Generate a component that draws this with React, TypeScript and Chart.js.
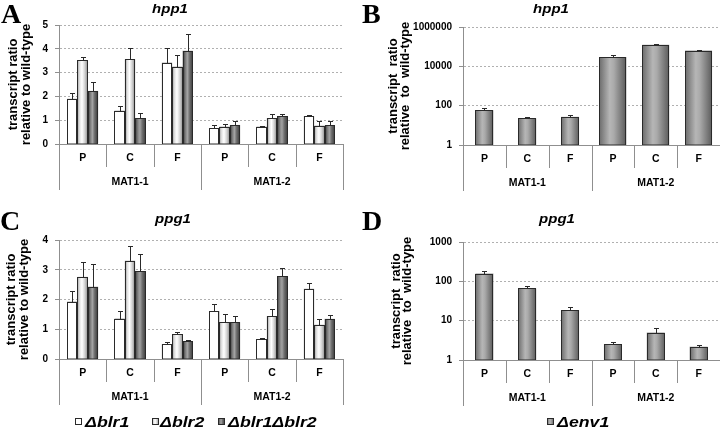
import React, { useEffect, useRef } from 'react';
import { Chart, registerables } from 'chart.js';

Chart.register(...registerables);

// ---------- data ----------
const categories = ['P', 'C', 'F', 'P', 'C', 'F'];
const groups = ['MAT1-1', 'MAT1-2'];
const seriesLabels = ['Δblr1', 'Δblr2', 'Δblr1Δblr2'];
const env1Label = 'Δenv1';

// Panel A: hpp1 (linear)
const hpp1Blr1 = [1.9, 1.4, 3.42, 0.66, 0.73, 1.17];
const hpp1Blr1Err = [0.24, 0.18, 0.63, 0.12, 0.02, 0.04];
const hpp1Blr2 = [3.51, 3.56, 3.25, 0.73, 1.09, 0.77];
const hpp1Blr2Err = [0.14, 0.49, 0.49, 0.12, 0.17, 0.21];
const hpp1Dbl = [2.23, 1.09, 3.92, 0.8, 1.17, 0.78];
const hpp1DblErr = [0.37, 0.21, 0.69, 0.18, 0.09, 0.2];

// Panel C: ppg1 (linear)
const ppg1Blr1 = [1.93, 1.36, 0.5, 1.61, 0.67, 2.36];
const ppg1Blr1Err = [0.34, 0.27, 0.06, 0.23, 0.03, 0.19];
const ppg1Blr2 = [2.76, 3.3, 0.84, 1.24, 1.44, 1.15];
const ppg1Blr2Err = [0.51, 0.51, 0.06, 0.27, 0.24, 0.19];
const ppg1Dbl = [2.43, 2.96, 0.59, 1.24, 2.79, 1.35];
const ppg1DblErr = [0.75, 0.58, 0.05, 0.19, 0.26, 0.12];

// Panel B: hpp1 in Δenv1 (log)
const hpp1Env1 = [59, 22.5, 27, 30000, 127000, 63000];
const hpp1Env1Err = [19, 4.5, 5, 6000, 13000, 7000];

// Panel D: ppg1 in Δenv1 (log)
const ppg1Env1 = [158, 66, 18.5, 2.5, 5.0, 2.18];
const ppg1Env1Err = [26, 12, 3.5, 0.3, 1.4, 0.27];

// tick values
const yTicksA = [0, 1, 2, 3, 4, 5];
const yTicksB = [1, 100, 10000, 1000000];
const yTicksC = [0, 1, 2, 3, 4];
const yTicksD = [1, 10, 100, 1000];

// ---------- styles ----------
const SANS = '"Liberation Sans", Arial, Helvetica, sans-serif';
const SERIF = '"Liberation Serif", "Times New Roman", serif';
const AXIS = '#8f8f8f';
const GRID = '#b0b0b0';
const INK = '#000000';
const EDGE = '#2a2a2a';

const SHADES: Record<string, [number, string][]> = {
  white: [[0, '#ffffff'], [1, '#ffffff']],
  light: [[0, '#9a9a9a'], [0.25, '#e4e4e4'], [0.45, '#ffffff'], [0.7, '#d4d4d4'], [1, '#8a8a8a']],
  dark: [[0, '#3c3c3c'], [0.3, '#8a8a8a'], [0.45, '#a2a2a2'], [0.65, '#707070'], [1, '#363636']],
  mid: [[0, '#6a6a6a'], [0.4, '#b6b6b6'], [0.55, '#aaaaaa'], [1, '#5c5c5c']],
};

type Series = {
  label: string;
  data: (number | null)[];
  err: (number | null)[];
  shade: string;
  barPercentage: number;
};

type LegendItem = { label: string; shade: string; boxX: number; textX: number };

type Panel = {
  W: number; H: number; left: number; top: number;
  area: { l: number; r: number; t: number; b: number };
  letter: string; letterX: number; letterY: number;
  title: string; titleX: number; titleY: number;
  yTitle: [string, string]; yTitleX: [number, number];
  log: boolean; yMin: number; yMax: number; yTicks: number[];
  series: Series[]; categoryPercentage: number; grouped: boolean;
  legend?: LegendItem[]; legendY?: number;
};

const firstGroup = (arr: number[]) => arr.map((v, i) => (i < 3 ? v : null));
const secondGroup = (arr: number[]) => arr.map((v, i) => (i >= 3 ? v : null));

const panels: Panel[] = [
  {
    W: 360, H: 200, left: 0, top: 0,
    area: { l: 59, r: 343, t: 25, b: 144 },
    letter: 'A', letterX: 1, letterY: 23,
    title: 'hpp1', titleX: 170, titleY: 13,
    yTitle: ['transcript ratio', 'relative to wild-type'], yTitleX: [13, 26],
    log: false, yMin: 0, yMax: 5, yTicks: yTicksA,
    series: [
      { label: seriesLabels[0], data: hpp1Blr1, err: hpp1Blr1Err, shade: 'white', barPercentage: 1 },
      { label: seriesLabels[1], data: hpp1Blr2, err: hpp1Blr2Err, shade: 'light', barPercentage: 1 },
      { label: seriesLabels[2], data: hpp1Dbl, err: hpp1DblErr, shade: 'dark', barPercentage: 1 },
    ],
    categoryPercentage: 0.655, grouped: true,
  },
  {
    W: 360, H: 200, left: 360, top: 0,
    area: { l: 103, r: 360, t: 27, b: 145 },
    letter: 'B', letterX: 2, letterY: 23,
    title: 'hpp1', titleX: 191, titleY: 13,
    yTitle: ['transcript  ratio', 'relative  to  wild-type'], yTitleX: [33, 45],
    log: true, yMin: 1, yMax: 1000000, yTicks: yTicksB,
    series: [
      { label: env1Label, data: firstGroup(hpp1Env1), err: firstGroup(hpp1Env1Err), shade: 'mid', barPercentage: 0.42 },
      { label: env1Label, data: secondGroup(hpp1Env1), err: secondGroup(hpp1Env1Err), shade: 'mid', barPercentage: 0.63 },
    ],
    categoryPercentage: 1, grouped: false,
  },
  {
    W: 360, H: 230, left: 0, top: 200,
    area: { l: 59, r: 343, t: 40, b: 159 },
    letter: 'C', letterX: 0, letterY: 30,
    title: 'ppg1', titleX: 173, titleY: 23,
    yTitle: ['transcript ratio', 'relative to wild-type'], yTitleX: [11, 24],
    log: false, yMin: 0, yMax: 4, yTicks: yTicksC,
    series: [
      { label: seriesLabels[0], data: ppg1Blr1, err: ppg1Blr1Err, shade: 'white', barPercentage: 1 },
      { label: seriesLabels[1], data: ppg1Blr2, err: ppg1Blr2Err, shade: 'light', barPercentage: 1 },
      { label: seriesLabels[2], data: ppg1Dbl, err: ppg1DblErr, shade: 'dark', barPercentage: 1 },
    ],
    categoryPercentage: 0.655, grouped: true,
    legend: [
      { label: seriesLabels[0], shade: 'white', boxX: 75, textX: 85 },
      { label: seriesLabels[1], shade: 'light', boxX: 152, textX: 160 },
      { label: seriesLabels[2], shade: 'dark', boxX: 218, textX: 228 },
    ],
    legendY: 221,
  },
  {
    W: 360, H: 230, left: 360, top: 200,
    area: { l: 103, r: 360, t: 42, b: 160 },
    letter: 'D', letterX: 2, letterY: 30,
    title: 'ppg1', titleX: 197, titleY: 23,
    yTitle: ['transcript  ratio', 'relative  to  wild-type'], yTitleX: [36, 47],
    log: true, yMin: 1, yMax: 1000, yTicks: yTicksD,
    series: [
      { label: env1Label, data: ppg1Env1, err: ppg1Env1Err, shade: 'mid', barPercentage: 0.42 },
    ],
    categoryPercentage: 1, grouped: false,
    legend: [{ label: env1Label, shade: 'mid', boxX: 187, textX: 197 }],
    legendY: 221,
  },
];

// ---------- drawing helpers ----------
function gradient(ctx: CanvasRenderingContext2D, x0: number, x1: number, shade: string) {
  const g = ctx.createLinearGradient(x0, 0, x1, 0);
  SHADES[shade].forEach(([o, c]) => g.addColorStop(o, c));
  return g;
}

function stretchText(ctx: CanvasRenderingContext2D, text: string, x: number, y: number, sx: number, align: CanvasTextAlign) {
  ctx.save();
  ctx.translate(x, y);
  ctx.scale(sx, 1);
  ctx.textAlign = align;
  ctx.fillText(text, 0, 0);
  ctx.restore();
}

function panelPlugin(p: Panel) {
  return {
    id: 'panelDecor',
    afterDatasetsDraw(chart: any) {
      const ctx: CanvasRenderingContext2D = chart.ctx;
      const ys = chart.scales.y;
      chart.data.datasets.forEach((_ds: any, di: number) => {
        const s = p.series[di];
        const meta = chart.getDatasetMeta(di);
        meta.data.forEach((el: any, i: number) => {
          const v = s.data[i];
          if (v == null) return;
          const { x, y, base, width } = el.getProps(['x', 'y', 'base', 'width'], true);
          const x0 = Math.round(x - width / 2);
          const x1 = Math.round(x + width / 2);
          const top = Math.round(y);
          const bot = Math.round(base);
          ctx.save();
          ctx.fillStyle = gradient(ctx, x0, x1, s.shade);
          ctx.fillRect(x0, top, x1 - x0, bot - top);
          ctx.strokeStyle = EDGE;
          ctx.lineWidth = 1;
          ctx.strokeRect(x0 + 0.5, top + 0.5, x1 - x0 - 1, bot - top - 0.5);
          const e = s.err[i];
          if (e) {
            const yt = Math.round(ys.getPixelForValue(v + e));
            const cx = Math.round(x) + 0.5;
            ctx.beginPath();
            ctx.moveTo(cx, top);
            ctx.lineTo(cx, yt + 0.5);
            ctx.moveTo(cx - 2.5, yt + 0.5);
            ctx.lineTo(cx + 2.5, yt + 0.5);
            ctx.stroke();
          }
          ctx.restore();
        });
      });
    },
    afterDraw(chart: any) {
      const ctx: CanvasRenderingContext2D = chart.ctx;
      const a = chart.chartArea;
      const xs = chart.scales.x;
      const n = categories.length;
      const step = xs.getPixelForValue(1) - xs.getPixelForValue(0);
      ctx.save();
      // category axis line + dividers
      ctx.strokeStyle = AXIS;
      ctx.lineWidth = 1;
      ctx.beginPath();
      ctx.moveTo(a.left, a.bottom + 0.5);
      ctx.lineTo(a.right, a.bottom + 0.5);
      for (let i = 0; i <= n; i++) {
        const bx = Math.round(xs.getPixelForValue(i) - step / 2) + 0.5;
        const len = i % 3 === 0 ? 46 : 23;
        if (bx > chart.width) continue;
        ctx.moveTo(bx, a.bottom);
        ctx.lineTo(bx, a.bottom + len);
      }
      ctx.stroke();

      // category labels
      ctx.fillStyle = INK;
      ctx.textBaseline = 'middle';
      ctx.font = `bold 10px ${SANS}`;
      categories.forEach((c, i) => stretchText(ctx, c, xs.getPixelForValue(i), a.bottom + 14, 1.05, 'center'));
      groups.forEach((g, gi) => stretchText(ctx, g, xs.getPixelForValue(gi * 3 + 1), a.bottom + 38, 1.05, 'center'));

      // y title
      ctx.font = `bold 13px ${SANS}`;
      const cy = (a.top + a.bottom) / 2;
      p.yTitle.forEach((t, li) => {
        ctx.save();
        ctx.translate(p.yTitleX[li], cy);
        ctx.rotate(-Math.PI / 2);
        ctx.textAlign = 'center';
        ctx.textBaseline = 'middle';
        ctx.fillText(t, 0, 0);
        ctx.restore();
      });

      // title
      ctx.textBaseline = 'alphabetic';
      ctx.font = `italic bold 12px ${SANS}`;
      stretchText(ctx, p.title, p.titleX, p.titleY, 1.25, 'center');

      // panel letter
      ctx.font = `bold 28px ${SERIF}`;
      ctx.textAlign = 'left';
      ctx.fillText(p.letter, p.letterX, p.letterY);

      // legend
      if (p.legend && p.legendY != null) {
        const ly = p.legendY;
        p.legend.forEach((it) => {
          ctx.fillStyle = gradient(ctx, it.boxX, it.boxX + 7, it.shade);
          ctx.fillRect(it.boxX, ly - 3, 7, 7);
          ctx.strokeStyle = EDGE;
          ctx.strokeRect(it.boxX + 0.5, ly - 3 + 0.5, 6, 6);
          ctx.fillStyle = INK;
          ctx.font = `italic bold 15px ${SANS}`;
          ctx.textBaseline = 'alphabetic';
          stretchText(ctx, it.label, it.textX, ly + 6, 1.18, 'left');
        });
      }
      ctx.restore();
    },
  };
}

function buildConfig(p: Panel): any {
  return {
    type: 'bar',
    data: {
      labels: categories,
      datasets: p.series.map((s) => ({
        label: s.label,
        data: s.data,
        backgroundColor: '#9a9a9a',
        borderWidth: 0,
        barPercentage: s.barPercentage,
        categoryPercentage: p.categoryPercentage,
        grouped: p.grouped,
      })),
    },
    options: {
      responsive: false,
      animation: false,
      devicePixelRatio: 1,
      layout: {
        autoPadding: false,
        padding: { left: 0, right: p.W - p.area.r, top: p.area.t, bottom: p.H - p.area.b },
      },
      plugins: {
        legend: { display: false },
        tooltip: { enabled: false },
        title: { display: false },
      },
      scales: {
        x: { type: 'category', display: false, offset: true },
        y: {
          type: p.log ? 'logarithmic' : 'linear',
          min: p.yMin,
          max: p.yMax,
          afterFit: (s: any) => { s.width = p.area.l; },
          afterBuildTicks: (s: any) => { s.ticks = p.yTicks.map((v) => ({ value: v })); },
          grid: { color: GRID, lineWidth: 1, drawTicks: true, tickLength: 4, tickColor: AXIS },
          border: { display: true, color: AXIS, width: 1, dash: [2, 2] },
          ticks: {
            color: INK,
            font: { family: SANS, size: 10, weight: 'bold' },
            padding: 7,
            callback: (v: any) => String(v),
          },
        },
      },
    },
    plugins: [panelPlugin(p)],
  };
}

function PanelChart({ p }: { p: Panel }) {
  const ref = useRef<HTMLCanvasElement>(null);
  useEffect(() => {
    const chart = new Chart(ref.current as HTMLCanvasElement, buildConfig(p));
    return () => chart.destroy();
  }, [p]);
  return (
    <canvas
      ref={ref}
      width={p.W}
      height={p.H}
      style={{ position: 'absolute', left: p.left, top: p.top, width: p.W, height: p.H }}
    />
  );
}

export default function App() {
  return (
    <div style={{ position: 'fixed', left: 0, top: 0, width: 720, height: 430, background: '#ffffff', overflow: 'hidden' }}>
      {panels.map((p, i) => (
        <PanelChart key={i} p={p} />
      ))}
    </div>
  );
}
